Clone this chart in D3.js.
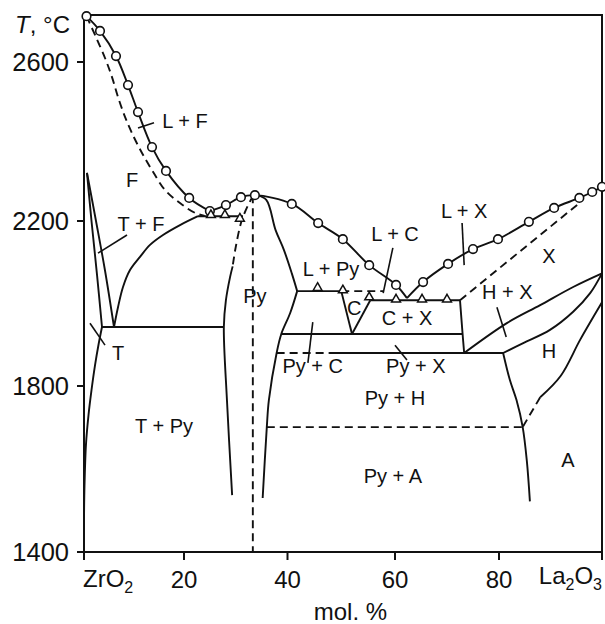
<!DOCTYPE html>
<html>
<head>
<meta charset="utf-8">
<script src="https://cdn.jsdelivr.net/npm/d3@7"></script>
<style>
  body { margin: 0; background: #fff; }
  text { font-family: "Liberation Sans", Arial, Helvetica, sans-serif; fill: #111; }
</style>
</head>
<body>
<div id="chart"></div>
<script>
// axis ticks
const xTicks = [0, 20, 40, 60, 80, 100]
const xTickLabels = ["", "20", "40", "60", "80", ""]
const yTicks = [1400, 1800, 2200, 2600]

// experimental points (mol. % La2O3, T in °C)
const liquidusCircles = [[0.5,2715],[3.2,2678],[6.4,2615],[8.8,2542],[10.8,2474],[13.6,2386],[16.4,2326],[21.0,2258],[25.0,2225],[28.1,2240],[31.0,2260],[33.7,2265],[40.8,2243],[45.7,2195],[50.3,2156],[55.2,2093],[60.2,2045],[65.4,2052],[70.2,2096],[75.0,2132],[79.8,2156],[85.8,2198],[90.7,2233],[95.6,2258],[98.1,2273],[100,2286]]
const solidusTriangles = [[25.2,2215],[27.9,2215],[30.8,2206],[45.6,2038],[50.3,2032],[55.2,2015],[60.2,2010],[65.2,2010],[70.0,2010]]

// liquidus
const liquidusLeft = [[0.5,2715],[3.2,2678],[6.4,2615],[8.8,2542],[10.8,2474],[13.6,2386],[16.4,2326],[21.0,2258],[25.0,2225]]
const liquidusMiddle = [[25.0,2225],[28.1,2240],[31.0,2260],[33.7,2265],[40.8,2243],[45.7,2195],[50.3,2156],[55.2,2093],[60.2,2045],[62.3,2013]]
const liquidusRight = [[62.3,2013],[65.4,2052],[70.2,2096],[75.0,2132],[79.8,2156],[85.8,2198],[90.7,2233],[95.6,2258],[98.1,2273],[100,2286]]

// ZrO2 side
const fSolidusDashed = [[0.5,2715],[2.2,2668],[4.2,2610],[5.6,2562],[6.8,2512],[8.2,2462],[9.6,2421],[11.6,2371],[13.6,2328],[16.2,2278],[19.2,2245],[22.2,2220],[24.0,2213]]
const fBoundary = [[6.0,1943],[6.8,1991],[7.8,2040],[9.2,2081],[11.2,2113],[13.2,2142],[15.8,2166],[19.2,2190],[22.7,2212]]
const eutecticF = [[22.7,2212],[31.4,2212]]
const tfLeft = [[0.6,2321],[1.5,2200],[2.6,2070],[3.6,1943]]
const tfRight = [[0.6,2321],[2.4,2200],[4.2,2080],[6.0,1943]]
const eutectoidT = [[3.6,1943],[27.7,1943]]
const tBoundary = [[3.6,1943],[2.9,1900],[2.2,1850],[1.5,1790],[0.9,1730],[0.4,1660],[0.1,1560],[0,1480]]

// pyrochlore
const pyLeftDashed = [[33.5,2265],[32.9,2253],[31.2,2203],[30.0,2137],[29.4,2090]]
const pyLeft = [[29.4,2090],[28.9,2064],[28.1,2008],[27.7,1943],[28.3,1766],[29.3,1537]]
const pyStoich = [[33.3,2265],[33.3,1400]]
const pyRightUpper = [[34.1,2265],[35.9,2253],[37.7,2178],[39.3,2130],[40.8,2073],[41.8,2030]]
const pyRightLower = [[41.8,2030],[40.5,1977],[38.8,1926],[37.9,1880],[36.4,1766],[36.0,1701],[35.2,1530]]

// La2O3 side
const lPyLine = [[41.8,2030],[50.0,2030]]
const lPyDashed = [[50.0,2030],[57.8,2030]]
const cLeft = [[50.0,2030],[52.0,1926]]
const cRight = [[52.0,1926],[55.4,2008]]
const cxTop = [[55.4,2008],[72.5,2008]]
const cxRight = [[72.5,2008],[73.0,1926],[73.3,1880]]
const pyCLine = [[38.8,1926],[73.0,1926]]
const pyXDashed = [[37.9,1880],[47.9,1880]]
const pyXLine = [[47.9,1880],[80.8,1880]]
const xBoundaryDashed = [[72.5,2008],[95.6,2245]]
const hxLower = [[73.3,1880],[81.6,1953],[88.0,1996],[94.4,2040],[100,2073]]
const hUpper = [[80.8,1880],[84.7,1904],[89.9,1936],[94.4,1980],[97.7,2025],[100,2073]]
const haSolid = [[100,2003],[95.8,1913],[92.0,1825],[88.0,1773]]
const haDashed = [[88.0,1773],[84.6,1701]]
const pyHRight = [[80.8,1880],[82.1,1815],[83.4,1766],[84.6,1701],[85.4,1620],[86.0,1522]]
const pyADashed = [[36.0,1701],[84.6,1701]]

// leader lines
const leaders = [
    [[1.2,1952],[4.2,1899]],     // T
    [[2.8,2122],[8.6,2166]],     // T + F
    [[10.8,2434],[14.0,2447]],   // L + F
    [[59.6,2135],[57.8,2025]],   // L + C
    [[72.9,2195],[73.3,2093]],   // L + X
    [[44.7,1955],[43.8,1856]],   // Py + C
    [[60.0,1899],[62.3,1863]],   // Py + X
    [[79.6,1991],[81.4,1919]]    // H + X
]

// phase field names and where they sit
const phaseNames = ["L + F","F","T + F","T","T + Py","Py","L + Py","C","C + X","Py + C","Py + X","L + C","L + X","X","H + X","H","Py + H","Py + A","A"]
const phaseX =     [20.2, 9.6, 11.4, 6.8, 16.0, 33.7, 48.1, 52.4, 62.3, 44.7, 64.0, 60.0, 73.3, 89.7, 81.6, 89.7, 60.0, 59.6, 93.4]
const phaseT =     [2434, 2286, 2176, 1863, 1687, 2001, 2067, 1972, 1948, 1832, 1832, 2151, 2208, 2098, 2010, 1868, 1754, 1566, 1605]

const width = 605
const height = 624

// the scanned figure is slightly uneven, so the scales follow the tick marks
const x = d3.scaleLinear()
    .domain([0, 20, 40, 60, 80, 100])
    .range([84, 184, 287.5, 395, 499, 602])
const y = d3.scaleLinear()
    .domain([1400, 1800, 2200, 2600, 2718])
    .range([552, 386, 221, 62, 15])

const svg = d3.select("#chart").append("svg")
    .attr("width", width)
    .attr("height", height)
    .attr("viewBox", [0, 0, width, height])

const line = d3.line()
    .x(d => x(d[0]))
    .y(d => y(d[1]))
    .curve(d3.curveCatmullRom.alpha(0.5))

const solid = [liquidusLeft, liquidusMiddle, liquidusRight, fBoundary, eutecticF, tfLeft, tfRight, eutectoidT, tBoundary,
    pyLeft, pyRightUpper, pyRightLower, lPyLine, cLeft, cRight, cxTop, cxRight, pyCLine, pyXLine,
    hxLower, hUpper, haSolid, pyHRight]
const dashed = [fSolidusDashed, pyLeftDashed, pyStoich, lPyDashed, pyXDashed, xBoundaryDashed, haDashed, pyADashed]

//frame
svg.append("rect")
    .attr("x", x(0))
    .attr("y", y(2718))
    .attr("width", x(100) - x(0))
    .attr("height", y(1400) - y(2718))
    .attr("fill", "none")
    .attr("stroke", "#111")
    .attr("stroke-width", 2)

svg.append("g")
    .attr("fill", "none")
    .attr("stroke", "#111")
    .attr("stroke-width", 1.9)
    .selectAll("path")
    .data(solid)
    .join("path")
        .attr("d", line)

svg.append("g")
    .attr("fill", "none")
    .attr("stroke", "#111")
    .attr("stroke-width", 1.9)
    .attr("stroke-dasharray", "8,5")
    .selectAll("path")
    .data(dashed)
    .join("path")
        .attr("d", line)

svg.append("g")
    .attr("stroke", "#111")
    .attr("stroke-width", 1.6)
    .selectAll("line")
    .data(leaders)
    .join("line")
        .attr("x1", d => x(d[0][0]))
        .attr("y1", d => y(d[0][1]))
        .attr("x2", d => x(d[1][0]))
        .attr("y2", d => y(d[1][1]))

// markers
svg.append("g")
    .attr("fill", "#fff")
    .attr("stroke", "#111")
    .attr("stroke-width", 1.6)
    .selectAll("circle")
    .data(liquidusCircles)
    .join("circle")
        .attr("cx", d => x(d[0]))
        .attr("cy", d => y(d[1]))
        .attr("r", 4.3)

svg.append("g")
    .attr("fill", "#fff")
    .attr("stroke", "#111")
    .attr("stroke-width", 1.5)
    .selectAll("path")
    .data(solidusTriangles)
    .join("path")
        .attr("d", d3.symbol(d3.symbolTriangle, 34))
        .attr("transform", d => `translate(${x(d[0])},${y(d[1])})`)

// axes
const axis = svg.append("g").attr("stroke", "#111").attr("stroke-width", 2)
axis.selectAll(".yt")
    .data(yTicks)
    .join("line")
        .attr("x1", x(0) - 7).attr("x2", x(0))
        .attr("y1", d => y(d)).attr("y2", d => y(d))
axis.selectAll(".xt")
    .data(xTicks)
    .join("line")
        .attr("x1", d => x(d)).attr("x2", d => x(d))
        .attr("y1", y(1400)).attr("y2", y(1400) + 8)

svg.append("g")
    .attr("font-size", 25.5)
    .attr("text-anchor", "end")
    .selectAll("text")
    .data(yTicks)
    .join("text")
        .attr("x", x(0) - 15)
        .attr("y", d => y(d))
        .attr("dy", "0.36em")
        .text(d => d)

svg.append("g")
    .attr("font-size", 24)
    .attr("text-anchor", "middle")
    .selectAll("text")
    .data(xTicks)
    .join("text")
        .attr("x", d => x(d))
        .attr("y", y(1400) + 36)
        .text((d, i) => xTickLabels[i])

const zr = svg.append("text")
    .attr("x", x(0) - 1)
    .attr("y", y(1400) + 35)
    .attr("font-size", 24)
zr.append("tspan").text("ZrO")
zr.append("tspan").attr("font-size", 16).attr("dy", 6).text("2")

const la = svg.append("text")
    .attr("x", x(100))
    .attr("y", y(1400) + 32)
    .attr("font-size", 24)
    .attr("text-anchor", "end")
la.append("tspan").text("La")
la.append("tspan").attr("font-size", 16).attr("dy", 6).text("2")
la.append("tspan").attr("dy", -6).text("O")
la.append("tspan").attr("font-size", 16).attr("dy", 6).text("3")

svg.append("text")
    .attr("x", x(51.7))
    .attr("y", y(1400) + 68)
    .attr("font-size", 24)
    .attr("text-anchor", "middle")
    .text("mol. %")

const tl = svg.append("text")
    .attr("x", x(0) - 14)
    .attr("y", y(2718) + 18)
    .attr("font-size", 24)
    .attr("text-anchor", "end")
tl.append("tspan").attr("font-style", "italic").text("T")
tl.append("tspan").text(", °C")

// phase field labels
svg.append("g")
    .attr("font-size", 20)
    .attr("text-anchor", "middle")
    .selectAll("text")
    .data(phaseNames)
    .join("text")
        .attr("x", (d, i) => x(phaseX[i]))
        .attr("y", (d, i) => y(phaseT[i]))
        .text(d => d)
</script>
</body>
</html>
